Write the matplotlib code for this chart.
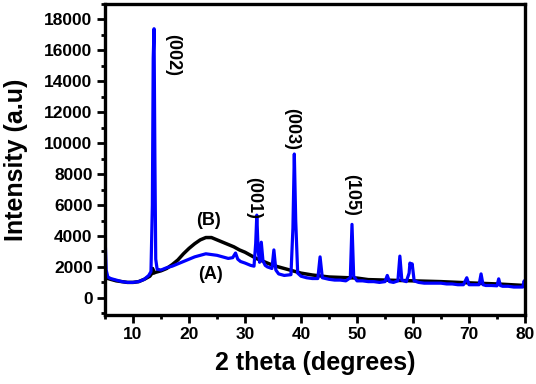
import matplotlib.pyplot as plt
from matplotlib.ticker import MultipleLocator

plt.rcParams['font.family'] = ['Liberation Sans', 'DejaVu Sans']
plt.rcParams['font.weight'] = 'bold'

# sample (A), blue
theta_a = [5.0, 5.2, 5.5, 6, 7, 8, 9, 10, 11, 12, 12.8, 13.2, 13.45, 13.6, 13.75, 13.9, 14.05, 14.3,
           15, 16, 17, 18, 19, 20, 21, 22, 23, 24, 25, 26, 27, 27.8, 28.3, 28.7, 29.2, 30, 31,
           31.6, 31.9, 32.1, 32.35, 32.6, 32.9, 33.2, 33.6, 34, 34.8, 35.15, 35.5, 36, 37,
           38.2, 38.55, 38.8, 39.05, 39.4, 40, 41, 42, 43, 43.4, 43.8, 45, 46, 47, 48,
           48.8, 49.1, 49.4, 50, 51, 52, 53, 54, 55, 55.4, 55.8, 56.5, 57.3, 57.65, 58,
           58.8, 59.3, 59.45, 59.65, 59.85, 60.2, 61, 62, 63, 64, 65, 66, 67, 68, 69, 69.6,
           70, 71, 71.8, 72.15, 72.5, 73, 74, 75, 75.3, 75.6, 76, 77, 78, 79, 79.6, 79.85, 80]
counts_a = [4000, 1800, 1350, 1250, 1150, 1050, 1000, 1000, 1050, 1200, 1450, 1700, 6000, 15500, 17400, 9000, 2500, 1850,
            1800, 1950, 2050, 2200, 2350, 2500, 2650, 2750, 2850, 2800, 2750, 2650, 2550, 2600, 2900, 2500, 2350, 2250, 2100,
            2050, 3500, 5350, 3000, 2300, 3600, 2400, 2100, 2000, 1900, 3100, 1800, 1550, 1450,
            1500, 4500, 9300, 5000, 1600, 1400, 1300, 1250, 1250, 2650, 1300, 1200, 1150, 1150, 1100,
            1300, 4750, 1400, 1100, 1100, 1050, 1050, 1000, 1050, 1450, 1050, 1000, 1100, 2700, 1150,
            1050, 1600, 2250, 2100, 2200, 1100, 1000, 950, 950, 950, 950, 900, 900, 850, 850, 1300,
            850, 850, 850, 1550, 850, 800, 800, 780, 1230, 800, 750, 750, 700, 700, 700, 1100, 900]

# sample (B), black
theta_b = [5, 5.5, 6, 7, 8, 9, 10, 11, 12, 13, 13.3, 13.5, 13.7, 14, 15, 16, 17, 18, 19, 20, 21, 22, 23, 24,
           25, 26, 27, 28, 29, 30, 31, 32, 33, 34, 35, 36, 37, 38, 39, 40, 42, 45, 50, 52, 55, 60, 65, 70, 75, 78, 80]
counts_b = [1350, 1250, 1200, 1100, 1050, 1000, 1000, 1050, 1200, 1400, 1550, 1900, 1600, 1650, 1750, 1900, 2150, 2450, 2850, 3200, 3500, 3750, 3900, 3900,
            3750, 3600, 3450, 3300, 3100, 2950, 2750, 2550, 2400, 2250, 2100, 2000, 1900, 1800, 1700, 1600, 1480, 1350, 1280, 1180, 1150, 1100, 1050, 970, 900, 840, 800]

peak_labels = ['(002)', '(001)', '(003)', '(105)']
label_x = [17.0, 31.6, 38.4, 49.1]
label_y = [15700, 6450, 10950, 6640]

fig = plt.figure(figsize=(5.36, 3.84), dpi=100)
ax = fig.add_axes([0.196, 0.18, 0.7835, 0.8096])

ax.plot(theta_b, counts_b, color='black', lw=2.5)
ax.plot(theta_a, counts_a, color='#0000ff', lw=2.3)

for lab, lx, ly in zip(peak_labels, label_x, label_y):
    ax.text(lx, ly, lab, rotation=-90, ha='center', va='center', fontsize=13, fontweight='bold')
ax.text(23.4, 5030, '(B)', ha='center', va='center', fontsize=13, fontweight='bold')
ax.text(23.75, 1480, '(A)', ha='center', va='center', fontsize=13, fontweight='bold')

ax.set_xlim(5, 80)
ax.set_ylim(-1100, 19000)
ax.xaxis.set_major_locator(MultipleLocator(10))
ax.xaxis.set_minor_locator(MultipleLocator(5))
ax.yaxis.set_major_locator(MultipleLocator(2000))
ax.yaxis.set_minor_locator(MultipleLocator(1000))
ax.set_yticks(range(0, 18001, 2000))
ax.tick_params(which='major', direction='out', length=6, width=2, labelsize=12.5, pad=3)
ax.tick_params(which='minor', direction='out', length=3, width=2)
for s in ax.spines.values():
    s.set_linewidth(2.4)

ax.set_xlabel('2 theta (degrees)', fontsize=18, fontweight='bold', labelpad=6)
ax.set_ylabel('Intensity (a.u)', fontsize=18, fontweight='bold', labelpad=12)

fig.savefig('out.png', dpi=100)
